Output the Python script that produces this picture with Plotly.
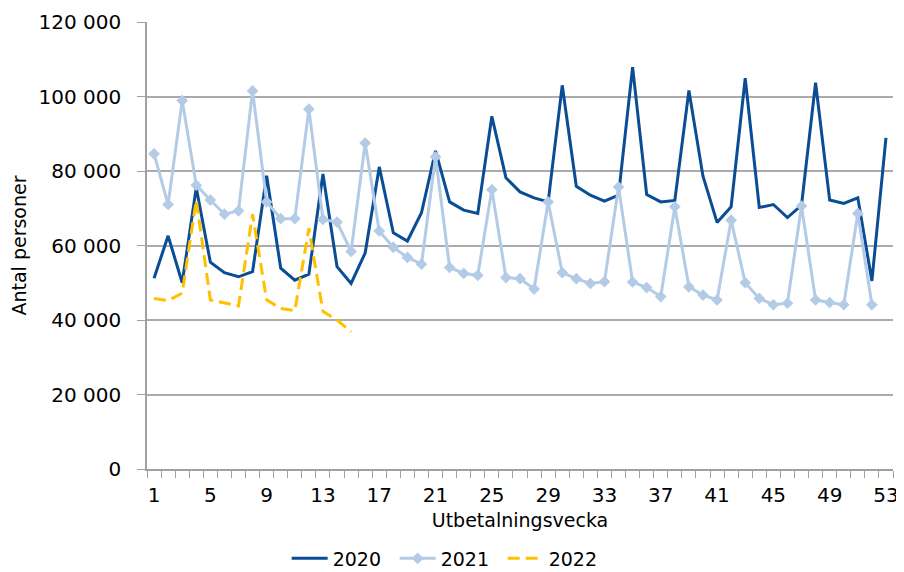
import plotly.graph_objects as go

weeks = list(range(1, 54))

y2020 = [51200, 62600, 50000, 75500, 55500, 52700, 51600, 53000, 78700, 53900,
         50700, 52300, 79200, 54300, 49800, 58000, 81100, 63400, 61200, 68800,
         85400, 71700, 69500, 68600, 94700, 78200, 74400, 72800, 71700, 103000,
         75900, 73500, 71900, 73500, 107900, 73700, 71700, 72100, 101600, 78600,
         66200, 70400, 104900, 70200, 71000, 67500, 70800, 103700, 72200, 71300,
         72800, 50500, 88900]

y2021 = [84600, 71000, 98900, 76200, 72200, 68400, 69300, 101500, 71700, 67200,
         67200, 96600, 67000, 66300, 58400, 87500, 63900, 59500, 56800, 55000,
         83800, 54100, 52500, 52000, 75000, 51400, 51100, 48300, 71700, 52700,
         51100, 49800, 50300, 75700, 50200, 48700, 46300, 70400, 48900, 46700,
         45400, 66800, 50000, 45800, 44100, 44500, 70600, 45400, 44700, 44100,
         68600, 44100]

y2022 = [45800, 45200, 47200, 72200, 45400, 44500, 43800, 68400, 45400, 43100,
         42500, 64600, 42300, 40000, 36800]

x_ticks = list(range(1, 54, 4))
y_ticks = [0, 20000, 40000, 60000, 80000, 100000, 120000]
y_ticktext = ["0", "20 000", "40 000", "60 000", "80 000", "100 000", "120 000"]

FONT = "DejaVu Sans, Liberation Sans, Arial, sans-serif"

fig = go.Figure()
fig.add_trace(go.Scatter(x=weeks[:len(y2020)], y=y2020, name="2020", mode="lines",
                         line=dict(color="#0a4d97", width=3)))
fig.add_trace(go.Scatter(x=weeks[:len(y2021)], y=y2021, name="2021", mode="lines+markers",
                         line=dict(color="#b3cbe6", width=3),
                         marker=dict(symbol="diamond", size=9, color="#b3cbe6")))
fig.add_trace(go.Scatter(x=weeks[:len(y2022)], y=y2022, name="2022", mode="lines",
                         line=dict(color="#ffc000", width=3, dash="12px,6px")))

fig.update_layout(
    width=896, height=564,
    margin=dict(l=139, r=11, t=14, b=103, autoexpand=False),
    paper_bgcolor="white", plot_bgcolor="white",
    font=dict(family=FONT, size=20, color="#000000"),
    showlegend=True,
    legend=dict(orientation="h", xref="container", yref="container",
                x=0.311, xanchor="left", y=0.024, yanchor="middle",
                entrywidth=57, entrywidthmode="pixels", itemwidth=36,
                font=dict(family=FONT, size=19), bgcolor="rgba(0,0,0,0)"),
    xaxis=dict(range=[0.5, 53.5], tickmode="array", tickvals=x_ticks,
               ticktext=[str(v) for v in x_ticks], ticks="", showgrid=False,
               showline=True, linecolor="#a0a0a0", linewidth=1.5, zeroline=False,
               minor=dict(ticks="outside", tick0=0.5, dtick=1, ticklen=7,
                          tickcolor="#a0a0a0", showgrid=False),
               title=dict(text="Utbetalningsvecka", standoff=8,
                          font=dict(family=FONT, size=19)),
               ticklabelstandoff=7, automargin=False),
    yaxis=dict(range=[0, 120000], tickmode="array", tickvals=y_ticks, ticktext=y_ticktext,
               ticks="outside", ticklen=8, tickcolor="#a0a0a0",
               showgrid=True, gridcolor="#ababab", gridwidth=1.5,
               showline=True, linecolor="#a0a0a0", linewidth=1.5, zeroline=False,
               title=dict(text="Antal personer", standoff=12,
                          font=dict(family=FONT, size=19)),
               ticklabelstandoff=12, automargin=False),
)

fig.write_html("out.html")
